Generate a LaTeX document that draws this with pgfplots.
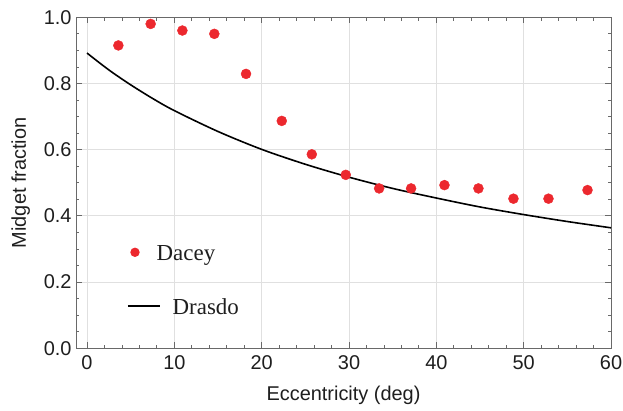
\documentclass[border=0pt]{standalone}
\usepackage{fontspec}
\setmainfont{Liberation Sans}
\newfontfamily\legendfont{Liberation Serif}
\usepackage{pgfplots}
\pgfplotsset{compat=1.18}
\definecolor{daceyred}{RGB}{236,40,46}
\definecolor{framegray}{RGB}{105,105,105}
\definecolor{labelgray}{RGB}{30,30,30}

\begin{document}
\begin{tikzpicture}
\useasboundingbox (0,0) rectangle (623bp,411bp);
\begin{axis}[
  at={(76bp,62.7bp)}, anchor=south west,
  scale only axis, width=535bp, height=331bp,
  xmin=-1.26, xmax=60, ymin=0, ymax=1,
  xtick={0,10,20,30,40,50,60},
  ytick={0,0.2,0.4,0.6,0.8,1},
  minor x tick num=4, minor y tick num=3,
  tick align=inside,
  major tick length=6bp, minor tick length=3.5bp,
  every tick/.style={color=framegray, line width=0.8bp},
  axis line style={framegray, line width=1bp},
  grid=major,
  major grid style={color=black!12, line width=0.8bp},
  /pgf/number format/assume math mode=true,
  y tick label style={/pgf/number format/fixed,
    /pgf/number format/fixed zerofill,
    /pgf/number format/precision=1},
  yticklabel style={inner sep=0pt, xshift=-4.3bp,
    font=\fontsize{20}{24}\selectfont, text=labelgray},
  xticklabel style={inner sep=0pt, yshift=-7.4bp,
    font=\fontsize{20}{24}\selectfont, text=labelgray},
  xlabel={Eccentricity (deg)},
  xlabel style={at={(axis description cs:0.5,-0.1562)}, anchor=base,
    inner sep=0pt, font=\fontsize{20}{24}\selectfont, text=labelgray},
  ylabel={Midget fraction},
  ylabel style={at={(axis description cs:-0.0935,0.5)}, anchor=base,
    inner sep=0pt, font=\fontsize{20}{24}\selectfont, text=labelgray},
  legend cell align=left,
  legend style={at={(0.0953,0.3716)}, anchor=north west,
    draw=none, fill=none, inner sep=0pt, outer sep=0pt,
    column sep=0pt, row sep=0pt,
    nodes={inner sep=0pt, text height=16bp, text depth=0pt,
      font=\legendfont\fontsize{23}{27}\selectfont, text=labelgray}},
]

% Dacey: measured midget fraction
\addplot[only marks, mark=*, mark size=5bp, color=daceyred,
  mark options={draw=daceyred, fill=daceyred},
  legend image code/.code={
    \path[draw=none, fill=none] (-8bp,-27bp) rectangle (21.7bp,27bp);
    \fill[daceyred, draw=none, overlay] (0,0) circle (4.7bp);}]
  table {
  x     y
  3.59  0.915
  7.29  0.980
  10.92 0.960
  14.58 0.950
  18.21 0.829
  22.30 0.687
  25.74 0.586
  29.63 0.524
  33.45 0.483
  37.11 0.483
  40.93 0.493
  44.82 0.483
  48.83 0.452
  52.84 0.452
  57.31 0.478
  };
\addlegendentry{Dacey}

% Drasdo: model curve
\addplot[black, line width=1.6bp, smooth,
  legend image code/.code={
    \path[draw=none, fill=none] (-8bp,-27bp) rectangle (21.7bp,27bp);
    \draw[black, line width=2.2bp, overlay] (-7bp,0) -- (25bp,0);}]
  table {
  x    y
  0    0.892
  2.5  0.841
  5    0.796
  7.5  0.755
  10   0.718
  15   0.655
  20   0.601
  25   0.556
  30   0.517
  35   0.483
  40   0.454
  45   0.427
  50   0.404
  55   0.383
  60   0.364
  };
\addlegendentry{\hspace{16bp}Drasdo}

\end{axis}
\end{tikzpicture}
\end{document}
